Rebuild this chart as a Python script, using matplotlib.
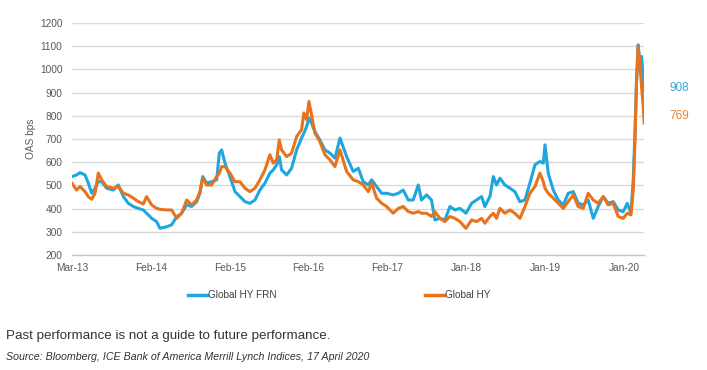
import matplotlib
matplotlib.use("Agg")
import matplotlib.pyplot as plt
from matplotlib.lines import Line2D
import pandas as pd

plt.rcParams['font.family'] = ['Liberation Sans', 'DejaVu Sans']

start_date = "2013-03-01"
end_date = "2020-04-17"

# weeks since start date
weeks = [0, 3.0, 5.2, 8.5, 10.6, 12.8, 15.0, 17.1, 19.3, 22.5, 26.9, 30.1, 33.4, 36.6, 39.9,
         43.1, 46.4, 48.5, 51.8, 55.0, 57.2, 61.6, 64.8, 68.1, 71.3, 74.6, 77.8, 81.1, 83.2, 85.0,
         87.6, 90.8, 94.1, 95.8, 97.3, 99.5, 102.7, 106.0, 109.2, 112.5, 115.7, 119.0, 122.2, 125.5, 128.7,
         130.9, 133.1, 134.8, 136.3, 139.6, 142.8, 146.1, 149.3, 150.8, 152.6, 154.1, 155.8, 158.0, 161.2, 164.5,
         167.8, 171.0, 174.3,
         178.6, 182.9, 186.2, 189.4, 192.7, 194.9, 198.1, 201.4, 204.6, 208.9, 212.2, 215.4, 218.7, 221.9, 225.2,
         227.3, 230.6, 233.8, 236.0, 239.3, 242.5, 245.8, 249.0, 252.3, 256.2, 259.9, 263.1, 266.4, 268.5, 271.8,
         274.0, 276.1, 278.3, 281.5, 284.8, 288.0, 291.3, 294.6, 297.8, 301.1, 304.3, 306.5, 307.6, 309.7, 313.0,
         316.2, 319.5, 322.7, 326.0, 329.2, 332.5, 335.7, 339.0, 342.2, 345.5, 348.7, 352.0, 355.2, 358.5, 361.1,
         363.5, 365.0, 366.1, 367.1, 368.2, 369.3, 370.4, 371.5, 372.1]

global_hy_frn = [538, 545, 555, 545, 510, 466, 488, 516, 516, 488, 480, 502, 452, 423, 409,
                 401, 394, 380, 358, 344, 315, 322, 330, 365, 380, 416, 409, 430, 466, 538,
                 510, 516, 524, 639, 653, 596, 538, 473, 452, 430, 423, 437, 480, 510, 553,
                 567, 589, 624, 567, 545, 574, 653, 704, 725, 754, 790, 768, 732, 696, 653,
                 639, 617, 704,
                 624, 560, 574, 516, 502, 524, 495, 466, 466, 459, 466, 480, 437, 437, 502,
                 437, 459, 437, 351, 358, 351, 409, 394, 401, 380, 423, 437, 452, 409, 452,
                 538, 502, 531, 502, 488, 473, 430, 437, 510, 589, 603, 596, 675, 553, 480,
                 437, 416, 466, 473, 423, 416, 437, 358, 409, 452, 423, 430, 394, 387, 423,
                 380, 524, 725, 941, 1106, 1027, 1056, 970, 908]

global_hy = [509, 480, 495, 473, 452, 440, 466, 553, 524, 495, 488, 495, 466, 459, 445,
             430, 420, 452, 416, 401, 397, 394, 394, 358, 380, 437, 416, 437, 473, 531,
             502, 502, 538, 553, 581, 581, 553, 516, 516, 488, 473, 488, 524, 567, 632,
             596, 610, 696, 653, 624, 639, 711, 740, 812, 783, 862, 804, 725, 689, 632,
             610, 581, 653,
             560, 524, 516, 502, 473, 509, 445, 423, 409, 380, 401, 409, 387, 380, 387,
             380, 380, 366, 387, 358, 344, 366, 358, 344, 315, 351, 344, 358, 337, 366,
             380, 358, 401, 380, 394, 380, 358, 409, 466, 495, 553, 516, 488, 466, 445,
             423, 401, 430, 459, 409, 401, 466, 437, 423, 452, 416, 423, 366, 358, 380,
             373, 480, 682, 941, 1099, 1027, 927, 840, 769]

tick_labels = ["Mar-13", "Feb-14", "Feb-15", "Feb-16", "Feb-17", "Jan-18", "Jan-19", "Jan-20"]
tick_days = [0, 359, 718, 1077, 1436, 1795, 2154, 2513]
y_ticks = [200, 300, 400, 500, 600, 700, 800, 900, 1000, 1100, 1200]
series_names = ["Global HY FRN", "Global HY"]
last_values = ["908", "769"]

BLUE = "#1EA7DF"
ORANGE = "#E8731C"
TXT = "#595959"

t0 = pd.Timestamp(start_date)
dates = [t0 + pd.Timedelta(days=w * 7) for w in weeks]
tick_pos = [t0 + pd.Timedelta(days=d) for d in tick_days]

fig = plt.figure(figsize=(7.07, 3.70), dpi=100)
ax = fig.add_axes([72/707, 1 - 255/370, (644-72)/707, (255-23)/370])

ax.plot(dates, global_hy_frn, color=BLUE, lw=2.2, solid_joinstyle='round', zorder=3)
ax.plot(dates, global_hy, color=ORANGE, lw=2.2, solid_joinstyle='round', zorder=4)

ax.set_xlim(t0, pd.Timestamp(end_date))
ax.set_ylim(200, 1200)
ax.set_yticks(y_ticks)
ax.set_xticks(tick_pos)
ax.set_xticklabels(tick_labels)
ax.grid(axis='y', color='#D9D9D9', lw=1.0)
ax.set_axisbelow(True)
for s in ['top', 'right', 'left']:
    ax.spines[s].set_visible(False)
ax.spines['bottom'].set_color('#C8C8C8')
ax.spines['bottom'].set_linewidth(1.0)
ax.tick_params(axis='both', length=0, labelsize=7.3, colors=TXT)
ax.tick_params(axis='y', pad=7)
ax.tick_params(axis='x', pad=6)
ax.set_ylabel("OAS bps", fontsize=7.3, color=TXT, labelpad=3)

# end labels
ax.text(1.045, 920, last_values[0], transform=ax.get_yaxis_transform(), color="#3AA8D8",
        fontsize=8.5, ha='left', va='center')
ax.text(1.045, 800, last_values[1], transform=ax.get_yaxis_transform(), color="#E8823A",
        fontsize=8.5, ha='left', va='center')

# legend (manual)
ly = 1 - 295/370
fig.add_artist(Line2D([188/707, 207/707], [ly, ly], color=BLUE, lw=2.5, transform=fig.transFigure))
fig.text(208/707, ly, series_names[0], fontsize=7.2, color="#404040", va='center', ha='left')
fig.add_artist(Line2D([425/707, 444/707], [ly, ly], color=ORANGE, lw=2.5, transform=fig.transFigure))
fig.text(445/707, ly, series_names[1], fontsize=7.2, color="#404040", va='center', ha='left')

fig.text(6/707, 1 - 336/370, "Past performance is not a guide to future performance.",
         fontsize=9.6, color="#333333", va='center', ha='left')
fig.text(6/707, 1 - 357/370, "Source: Bloomberg, ICE Bank of America Merrill Lynch Indices, 17 April 2020",
         fontsize=7.7, color="#333333", va='center', ha='left', style='italic')

fig.savefig("out.png", dpi=100, facecolor='white')
